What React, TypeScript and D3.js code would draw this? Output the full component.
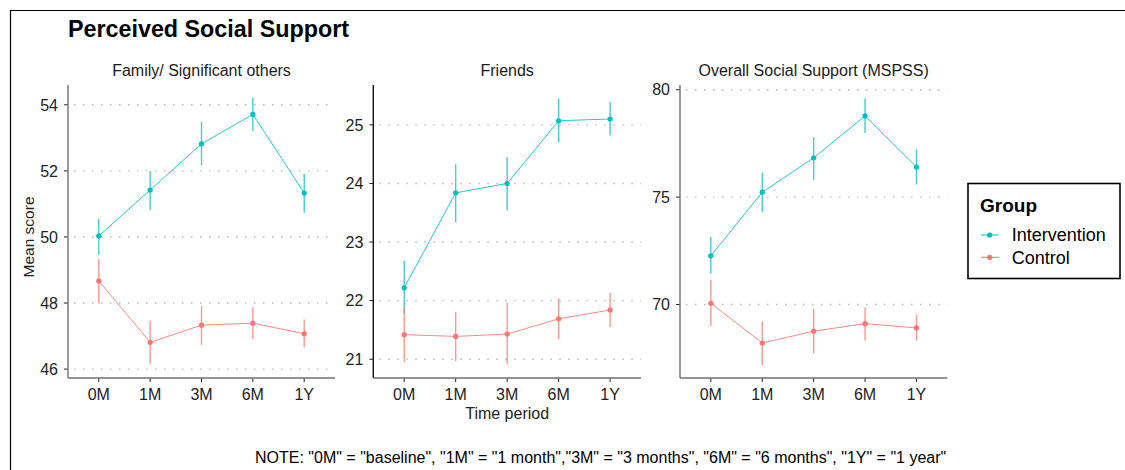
import React from "react";
import * as d3 from "d3";

const timePoints = ["0M", "1M", "3M", "6M", "1Y"];
const groups = ["Intervention", "Control"];
const groupColors = ["#00BFC4", "#F8766D"];

const panelTitles = ["Family/ Significant others", "Friends", "Overall Social Support (MSPSS)"];
const panelDomains = [[45.73, 54.6], [20.68, 25.68], [66.58, 80.22]];
const panelTicks = [[46, 48, 50, 52, 54], [21, 22, 23, 24, 25], [70, 75, 80]];

// Family / Significant others
const familyIntMean = [50.03, 51.42, 52.82, 53.71, 51.33];
const familyIntLow = [49.45, 50.82, 52.17, 53.21, 50.73];
const familyIntHigh = [50.55, 52.0, 53.48, 54.22, 51.91];
const familyCtlMean = [48.67, 46.81, 47.33, 47.39, 47.07];
const familyCtlLow = [47.98, 46.15, 46.73, 46.91, 46.66];
const familyCtlHigh = [49.33, 47.46, 47.91, 47.88, 47.5];

// Friends
const friendsIntMean = [22.22, 23.84, 24.0, 25.07, 25.1];
const friendsIntLow = [21.78, 23.34, 23.54, 24.7, 24.82];
const friendsIntHigh = [22.68, 24.33, 24.45, 25.45, 25.39];
const friendsCtlMean = [21.42, 21.39, 21.43, 21.69, 21.84];
const friendsCtlLow = [20.95, 20.97, 20.91, 21.34, 21.55];
const friendsCtlHigh = [21.89, 21.81, 21.97, 22.04, 22.13];

// Overall (MSPSS)
const overallIntMean = [72.27, 75.23, 76.83, 78.78, 76.4];
const overallIntLow = [71.43, 74.3, 75.8, 77.99, 75.59];
const overallIntHigh = [73.14, 76.13, 77.79, 79.59, 77.22];
const overallCtlMean = [70.06, 68.21, 68.76, 69.11, 68.91];
const overallCtlLow = [69.0, 67.19, 67.73, 68.32, 68.32];
const overallCtlHigh = [71.15, 69.21, 69.8, 69.86, 69.53];

const panelData = [
  [
    [familyIntMean, familyIntLow, familyIntHigh],
    [familyCtlMean, familyCtlLow, familyCtlHigh],
  ],
  [
    [friendsIntMean, friendsIntLow, friendsIntHigh],
    [friendsCtlMean, friendsCtlLow, friendsCtlHigh],
  ],
  [
    [overallIntMean, overallIntLow, overallIntHigh],
    [overallCtlMean, overallCtlLow, overallCtlHigh],
  ],
];

const chartTitle = "Perceived Social Support";
const xAxisTitle = "Time period";
const yAxisTitle = "Mean score";
const legendTitle = "Group";
const noteText =
  'NOTE: "0M" = "baseline", "1M" = "1 month","3M" = "3 months", "6M" = "6 months", "1Y" = "1 year"';

const FONT = "'Liberation Sans', Arial, Helvetica, sans-serif";
const panelX = [[68, 335], [373.3, 641], [680, 947.3]];
const panelAxisColor = ["#707070", "#111", "#707070"];
const plotTop = 85;
const plotBottom = 378;

export default function App() {
  const W = 1125;
  const H = 470;
  return (
    <svg
      width={W}
      height={H}
      style={{ position: "absolute", left: 0, top: 0, background: "#fff" }}
      fontFamily={FONT}
    >
      <rect x={0} y={0} width={W} height={H} fill="#fff" />
      {/* outer border (cropped) */}
      <line x1={10} y1={10.5} x2={W} y2={10.5} stroke="#000" strokeWidth={1.2} />
      <line x1={10.5} y1={10} x2={10.5} y2={H} stroke="#000" strokeWidth={1.2} />

      <text x={68} y={37} fontSize={23.3} fontWeight="bold" fill="#000">
        {chartTitle}
      </text>

      {panelTitles.map((title, pi) => {
        const [x0, x1] = panelX[pi];
        const x = d3.scalePoint<string>().domain(timePoints).range([x0, x1]).padding(0.6);
        const y = d3.scaleLinear().domain(panelDomains[pi]).range([plotBottom, plotTop]);
        const line = d3
          .line<number>()
          .x((_, i) => x(timePoints[i]) as number)
          .y((d) => y(d));
        return (
          <g key={pi}>
            <text
              x={(x0 + x1) / 2}
              y={76}
              fontSize={16}
              textAnchor="middle"
              fill="#1a1a1a"
            >
              {title}
            </text>
            {panelTicks[pi].map((t) => (
              <g key={t}>
                <line
                  x1={x0}
                  x2={x1}
                  y1={y(t)}
                  y2={y(t)}
                  stroke="#b8b8b8"
                  strokeWidth={1.4}
                  strokeDasharray="1.5,7.5"
                  strokeDashoffset={-6}
                />
                <line x1={x0 - 4} x2={x0} y1={y(t)} y2={y(t)} stroke="#222" strokeWidth={1} />
                <text
                  x={x0 - 10}
                  y={y(t)}
                  dy="0.36em"
                  fontSize={16}
                  textAnchor="end"
                  fill="#222"
                >
                  {t}
                </text>
              </g>
            ))}
            {timePoints.map((tp) => (
              <g key={tp}>
                <line
                  x1={x(tp)}
                  x2={x(tp)}
                  y1={plotBottom}
                  y2={plotBottom + 4}
                  stroke="#222"
                  strokeWidth={1}
                />
                <text
                  x={x(tp)}
                  y={plotBottom + 22}
                  fontSize={16}
                  textAnchor="middle"
                  fill="#222"
                >
                  {tp}
                </text>
              </g>
            ))}
            {/* axes */}
            <line
              x1={x0}
              x2={x0}
              y1={plotTop}
              y2={plotBottom}
              stroke={panelAxisColor[pi]}
              strokeWidth={1.4}
            />
            <line
              x1={x0}
              x2={x1}
              y1={plotBottom}
              y2={plotBottom}
              stroke="#707070"
              strokeWidth={1.4}
            />
            {panelData[pi].map((series, gi) => {
              const [mean, low, high] = series;
              const color = groupColors[gi];
              return (
                <g key={gi}>
                  {mean.map((_, i) => (
                    <line
                      key={"e" + i}
                      x1={x(timePoints[i])}
                      x2={x(timePoints[i])}
                      y1={y(low[i])}
                      y2={y(high[i])}
                      stroke={color}
                      strokeWidth={1.4}
                      strokeOpacity={0.75}
                    />
                  ))}
                  <path
                    d={line(mean) || ""}
                    fill="none"
                    stroke={color}
                    strokeWidth={1}
                    strokeOpacity={0.85}
                  />
                  {mean.map((v, i) => (
                    <circle
                      key={"p" + i}
                      cx={x(timePoints[i])}
                      cy={y(v)}
                      r={2.6}
                      fill={color}
                    />
                  ))}
                </g>
              );
            })}
          </g>
        );
      })}

      {/* axis titles */}
      <text
        x={(panelX[1][0] + panelX[1][1]) / 2}
        y={419}
        fontSize={16}
        textAnchor="middle"
        fill="#222"
      >
        {xAxisTitle}
      </text>
      <text
        transform={`translate(34, ${237}) rotate(-90)`}
        fontSize={15.5}
        textAnchor="middle"
        fill="#222"
      >
        {yAxisTitle}
      </text>

      {/* legend */}
      <rect
        x={968}
        y={183.5}
        width={152}
        height={95}
        fill="#fff"
        stroke="#000"
        strokeWidth={1.6}
      />
      <text x={980} y={212} fontSize={19} fontWeight="bold" fill="#000">
        {legendTitle}
      </text>
      {groups.map((g, gi) => {
        const cy = 235 + gi * 22.3;
        return (
          <g key={g}>
            <line x1={981} x2={998.5} y1={cy} y2={cy} stroke={groupColors[gi]} strokeWidth={1} />
            <circle cx={989.7} cy={cy} r={2.6} fill={groupColors[gi]} />
            <text x={1011.7} y={cy} dy="0.36em" fontSize={18} fill="#000">
              {g}
            </text>
          </g>
        );
      })}

      <text x={255} y={463} fontSize={16} fill="#000">
        {noteText}
      </text>
    </svg>
  );
}
